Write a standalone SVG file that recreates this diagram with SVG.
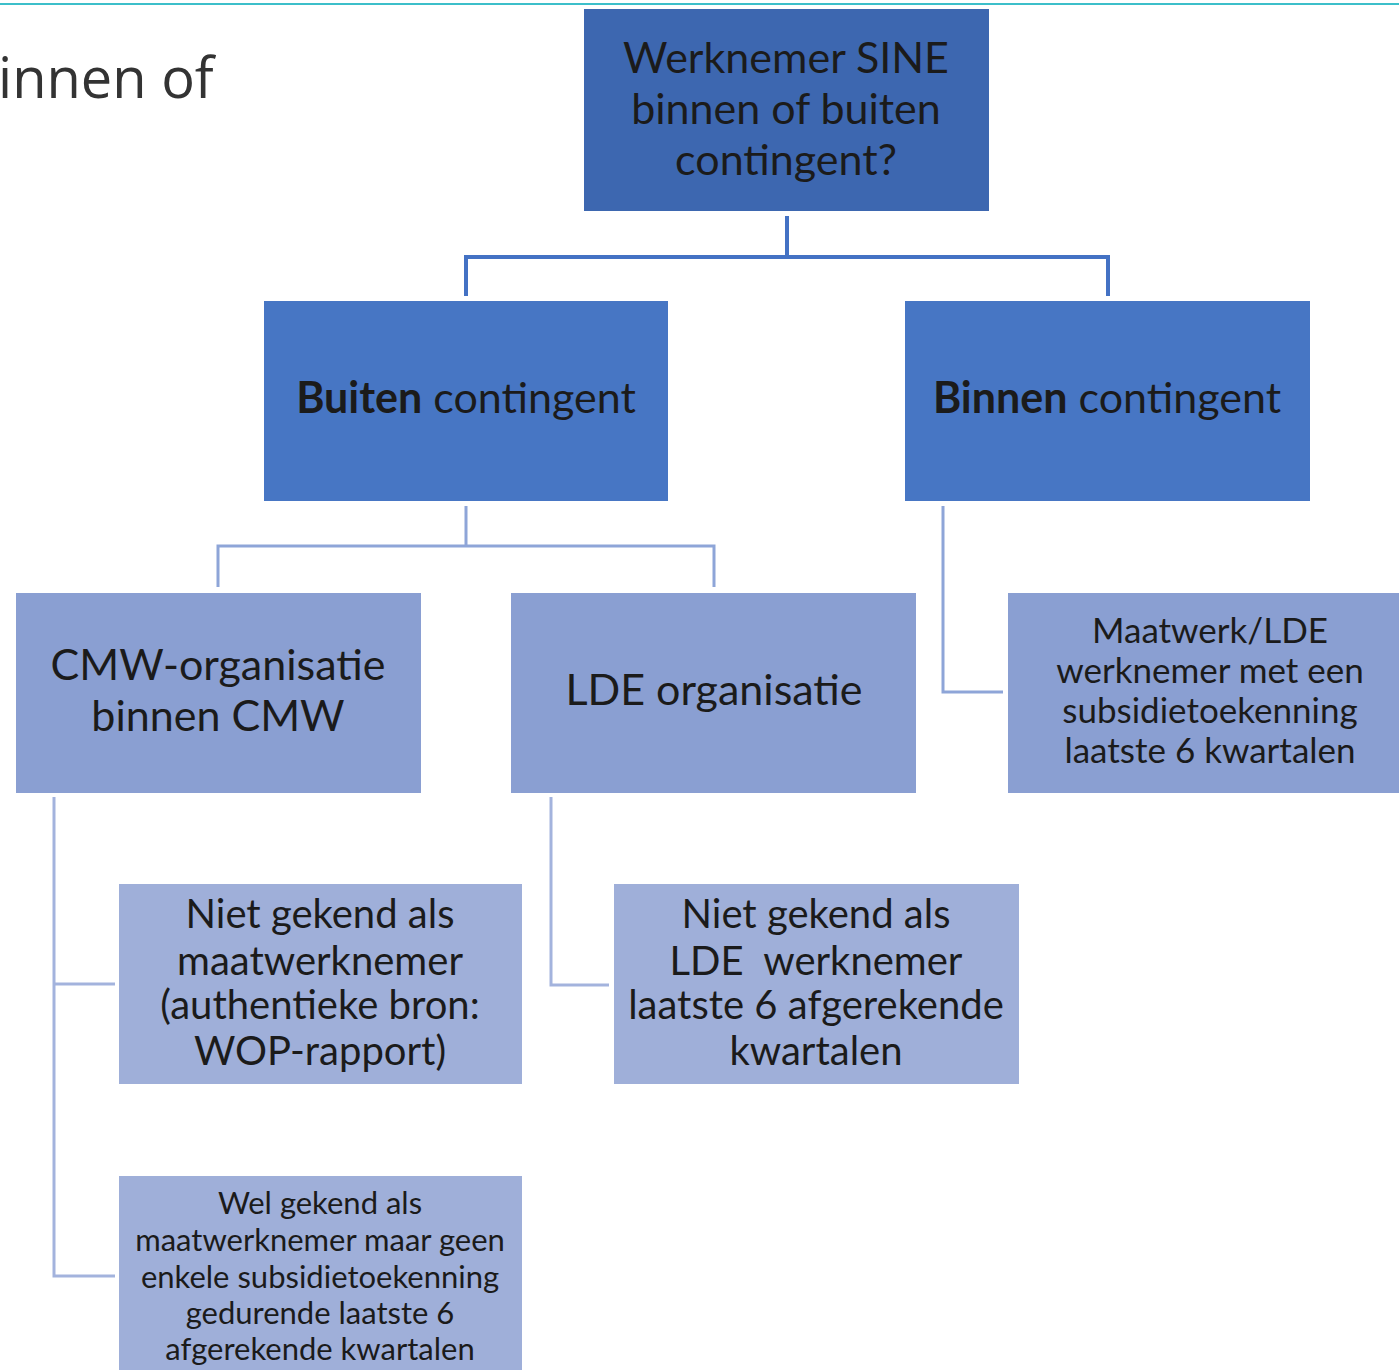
<svg xmlns="http://www.w3.org/2000/svg" width="1399" height="1370" viewBox="0 0 1399 1370">
<style>
text{font-family:Lato,"Open Sans","Liberation Sans",sans-serif;fill:#1b1b1b;text-anchor:middle}
.l1{fill:#3d67b0}
.l2{fill:#4776c4}
.l3{fill:#8a9fd2}
.l4{fill:#9fafd9}
.c1{stroke:#4472c4;stroke-width:4;fill:none}
.c2{stroke:#8ea5d8;stroke-width:3;fill:none}
.c3{stroke:#a3b3dd;stroke-width:3;fill:none}
.t42{font-size:43px}
.t36{font-size:35px}
.t40{font-size:40px}
.t32{font-size:31px}
</style>
<rect width="1399" height="1370" fill="#ffffff"/>
<line x1="0" y1="4" x2="1399" y2="4" stroke="#3cbfca" stroke-width="2"/>
<text x="-2" y="98" style="font-size:56px;fill:#333333;text-anchor:start;font-family:'Open Sans','Noto Sans',sans-serif">innen of</text>
<g id="connectors">
<path class="c1" d="M787 216V257M466 296V257H1108V296"/>
<path class="c2" d="M466 506V546M218 587V546H714V587"/>
<path class="c2" d="M943 506V692H1003"/>
<path class="c3" d="M54 797V1276H115M54 984H115"/>
<path class="c3" d="M551 797V985H609"/>
</g>
<g id="n-top">
<rect class="l1" x="584" y="9" width="405" height="202"/>
<text class="t42" x="786" y="73">Werknemer SINE</text>
<text class="t42" x="786" y="124">binnen of buiten</text>
<text class="t42" x="786" y="175">contingent?</text>
</g>
<g id="n-buiten">
<rect class="l2" x="264" y="301" width="404" height="200"/>
<text class="t42" x="466" y="413"><tspan font-weight="bold">Buiten</tspan> contingent</text>
</g>
<g id="n-binnen">
<rect class="l2" x="905" y="301" width="405" height="200"/>
<text class="t42" x="1107" y="413"><tspan font-weight="bold">Binnen</tspan> contingent</text>
</g>
<g id="n-cmw">
<rect class="l3" x="16" y="593" width="405" height="200"/>
<text class="t42" x="218" y="680">CMW-organisatie</text>
<text class="t42" x="218" y="731">binnen CMW</text>
</g>
<g id="n-lde">
<rect class="l3" x="511" y="593" width="405" height="200"/>
<text class="t42" x="714" y="705">LDE organisatie</text>
</g>
<g id="n-maatwerk">
<rect class="l3" x="1008" y="593" width="391" height="200"/>
<text class="t36" x="1210" y="643">Maatwerk/LDE</text>
<text class="t36" x="1210" y="683">werknemer met een</text>
<text class="t36" x="1210" y="723">subsidietoekenning</text>
<text class="t36" x="1210" y="763">laatste 6 kwartalen</text>
</g>
<g id="n-niet1">
<rect class="l4" x="119" y="884" width="403" height="200"/>
<text class="t40" x="320" y="928">Niet gekend als</text>
<text class="t40" x="320" y="975">maatwerknemer</text>
<text class="t40" x="320" y="1019">(authentieke bron:</text>
<text class="t40" x="320" y="1065">WOP-rapport)</text>
</g>
<g id="n-niet2">
<rect class="l4" x="614" y="884" width="405" height="200"/>
<text class="t40" x="816" y="928">Niet gekend als</text>
<text class="t40" x="816" y="975" style="white-space:pre">LDE  werknemer</text>
<text class="t40" x="816" y="1019">laatste 6 afgerekende</text>
<text class="t40" x="816" y="1065">kwartalen</text>
</g>
<g id="n-wel">
<rect class="l4" x="119" y="1176" width="403" height="200"/>
<text class="t32" x="320" y="1214">Wel gekend als</text>
<text class="t32" x="320" y="1251">maatwerknemer maar geen</text>
<text class="t32" x="320" y="1288">enkele subsidietoekenning</text>
<text class="t32" x="320" y="1324">gedurende laatste 6</text>
<text class="t32" x="320" y="1360">afgerekende kwartalen</text>
</g>
</svg>
